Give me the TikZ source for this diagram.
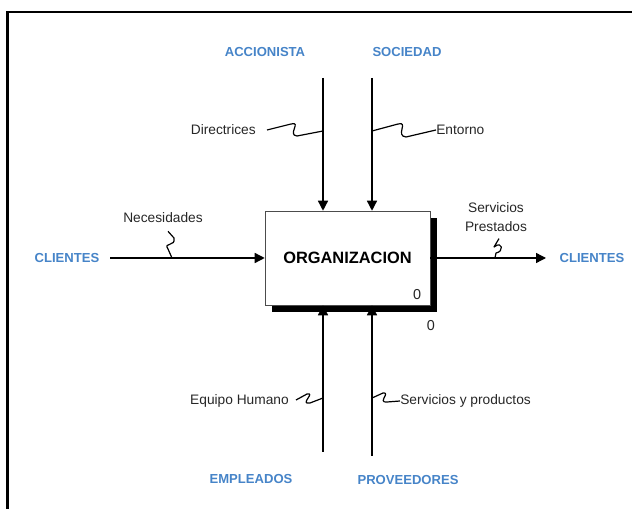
\documentclass[tikz,border=0pt]{standalone}
\usepackage{fontspec}
\setmainfont{Liberation Sans}
\usepackage{tikz}
\usetikzlibrary{arrows.meta,shadows,positioning}
\definecolor{etiq}{RGB}{70,132,200}

\begin{document}
\begin{tikzpicture}[x=0.75pt,y=-0.75pt]
    \tikzset{
        box/.style      =   { rectangle
                            , draw=black!70
                            , fill=white
                            , thin
                            , minimum width=123.75pt
                            , minimum height=70.5pt
                            , font=\fontsize{12.3}{14}\selectfont\bfseries
                            , drop shadow={shadow xshift=5.6pt, shadow yshift=-5.6pt, fill=black, opacity=1}
                            }
        , ext/.style    =   { text=etiq
                            , font=\fontsize{9.8}{11}\selectfont\bfseries
                            , inner sep=0pt
                            }
        , lab/.style    =   { text=black!85
                            , font=\fontsize{10.3}{12}\selectfont
                            , inner sep=0pt
                            , align=center
                            }
        , arrow/.style  =   { line width=1pt
                            , -{Triangle[length=7.5pt,width=7.5pt]}
                            }
        , sq/.style     =   { line width=0.9pt
                            , line join=round
                            }
    }
    \clip (0,0) rectangle (632,509);
    \draw[line width=1.6pt] (7.5,530) -- (7.5,12) -- (650,12);

    \node(org)[box] at (347.5,258) {ORGANIZACION};
    \node(n0)[lab,font=\fontsize{10.8}{12}\selectfont] at (417,295) {0};
    \node(n1)[lab,font=\fontsize{10.8}{12}\selectfont] at (431,326) {0};

    % actores externos
    \node(acc)[ext] at (265,52) {ACCIONISTA};
    \node(soc)[ext] at (407,52) {SOCIEDAD};
    \node(cli1)[ext] at (67,258) {CLIENTES};
    \node(cli2)[ext] at (592,258) {CLIENTES};
    \node(emp)[ext] at (251,479) {EMPLEADOS};
    \node(prov)[ext] at (408,480) {PROVEEDORES};

    \coordinate(c1) at (323,78);
    \coordinate(c2) at (372,78);
    \coordinate(i1) at (110,258);
    \coordinate(o1) at (546,258);
    \coordinate(m1) at (323,452);
    \coordinate(m2) at (372,456);

    \draw[arrow] (c1) -- (c1 |- org.north);
    \draw[arrow] (c2) -- (c2 |- org.north);
    \draw[arrow] (i1) -- (org.west);
    \draw[arrow] (org.east) -- (o1);
    \draw[arrow] (m1) -- (m1 |- org.south);
    \draw[arrow] (m2) -- (m2 |- org.south);

    % etiquetas de flechas
    \node(dir)[lab,anchor=east] at (256,130) {Directrices};
    \node(ent)[lab,anchor=west] at (436,130) {Entorno};
    \node(nec)[lab] at (163,218) {Necesidades};
    \node(ser)[lab] at (496,217) {Servicios\\[2pt]Prestados};
    \node(equ)[lab,anchor=east] at (289,401) {Equipo Humano};
    \node(spr)[lab,anchor=west] at (400,401) {Servicios y productos};

    \draw[sq] (dir.east) ++(11,0) -- (291,124) .. controls (302,121) and (287,135) .. (297,136) -- (323,131);
    \draw[sq] (372,131) -- (398,124) .. controls (409,121) and (395,136) .. (406,137) -- (ent.west);
    \draw[sq] (nec.south) ++(5,8) -- (174,238) .. controls (176,247) and (163,242) .. (168,249) -- (172,258);
    \draw[sq] (ser.south) ++(3,7) -- (494,247) .. controls (503,240) and (504,252) .. (496,253) -- (495,258);
    \draw[sq] (equ.east) ++(7,-1) -- (307,394) .. controls (316,392) and (299,405) .. (310,403) -- (323,398);
    \draw[sq] (372,398) -- (383,393) .. controls (391,392) and (377,403) .. (387,402) -- (spr.west);
\end{tikzpicture}
\end{document}
